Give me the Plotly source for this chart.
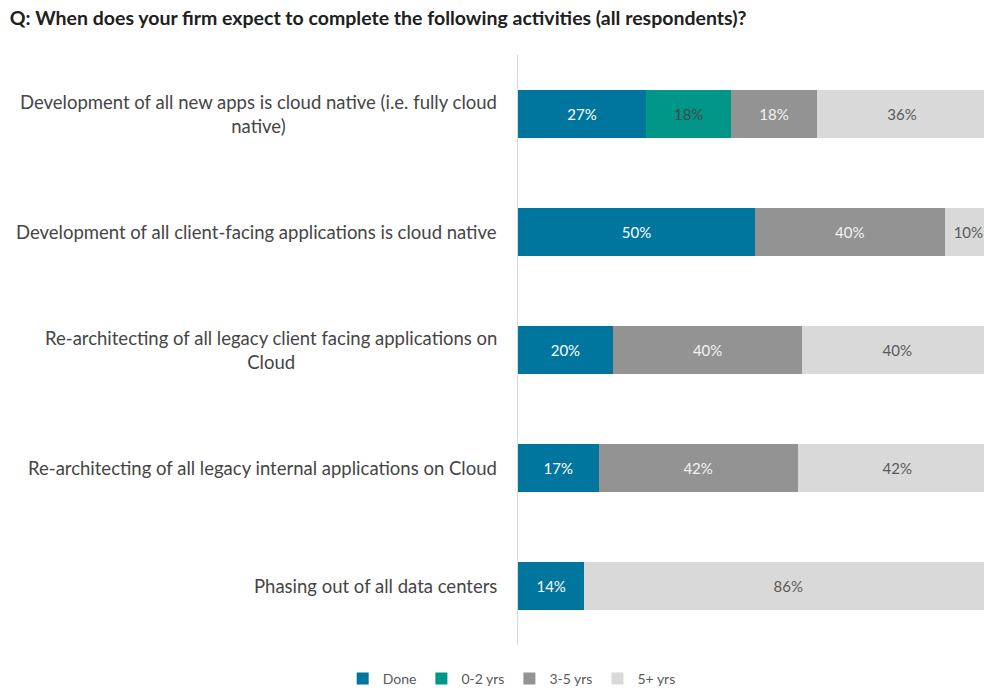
import plotly.graph_objects as go

categories = [
    "Development of all new apps is cloud native (i.e. fully cloud<br>native)",
    "Development of all client-facing applications is cloud native",
    "Re-architecting of all legacy client facing applications on<br>Cloud",
    "Re-architecting of all legacy internal applications on Cloud",
    "Phasing out of all data centers",
]
series_names = ["Done", "0-2 yrs", "3-5 yrs", "5+ yrs"]
done = [27, 50, 20, 17, 14]
yrs_0_2 = [18, 0, 0, 0, 0]
yrs_3_5 = [18, 40, 40, 42, 0]
yrs_5p = [36, 10, 40, 42, 86]
values = [done, yrs_0_2, yrs_3_5, yrs_5p]
colors = ["#00759E", "#009688", "#939393", "#D9D9D9"]
text_colors = ["#FFFFFF", "#3F4A4A", "#F2F2F2", "#595959"]

FONT = "Lato"
fig = go.Figure()
for name, vals, col, tc in zip(series_names, values, colors, text_colors):
    fig.add_trace(go.Bar(
        y=categories, x=vals, name=name, orientation="h",
        marker=dict(color=col, line=dict(width=0)),
        text=[f"{v}%" if v else "" for v in vals],
        textposition="inside", insidetextanchor="middle",
        textfont=dict(color=tc, size=15, family=FONT),
        constraintext="none",
        width=0.4,
    ))

for c in categories:
    fig.add_annotation(
        x=-0.04, xref="paper", y=c, yref="y", text=c, showarrow=False,
        xanchor="right", align="center",
        font=dict(size=18.5, color="#454545", family=FONT),
    )

fig.update_layout(
    width=984, height=695,
    barmode="stack",
    paper_bgcolor="white", plot_bgcolor="white",
    margin=dict(l=518, r=0, t=55, b=50),
    title=dict(
        text="<b>Q: When does your firm expect to complete the following activities (all respondents)?</b>",
        x=0.01, xanchor="left", y=0.974, yanchor="middle",
        font=dict(size=19.5, color="#202020", family=FONT),
    ),
    xaxis=dict(range=[0, 98.3], visible=False, fixedrange=True),
    yaxis=dict(
        categoryorder="array", categoryarray=categories[::-1],
        showticklabels=False, showgrid=False, zeroline=False,
        showline=True, linecolor="#D9D9D9", linewidth=1,
        range=[-0.5, 4.5],
    ),
    legend=dict(
        orientation="h", x=0.52, xref="container", y=0.0, yref="container",
        yanchor="bottom", xanchor="center",
        font=dict(size=14, color="#595959", family=FONT),
        itemwidth=30, traceorder="normal",
    ),
    showlegend=True,
)

fig.write_html("out.html")
